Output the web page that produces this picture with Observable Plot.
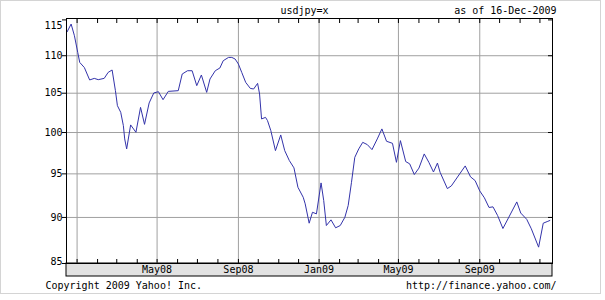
<!DOCTYPE html>
<html><head><meta charset="utf-8">
<script src="https://cdn.jsdelivr.net/npm/d3@7"></script>
<script src="https://cdn.jsdelivr.net/npm/@observablehq/plot@0.6"></script>
<style>
body{margin:0;background:#fff;}
#wrap{position:relative;width:605px;height:300px;}
#border{position:absolute;left:0;top:0;width:599px;height:292px;border:1px solid #d4d4d4;pointer-events:none;}
</style></head><body>
<div id="wrap"><div id="border"></div></div>
<script>
const titleText = "usdjpy=x";
const asOfText = "as of 16-Dec-2009";
const copyrightText = "Copyright 2009 Yahoo! Inc.";
const urlText = "http://finance.yahoo.com/";

const dates = ["2007-12-17","2007-12-23","2007-12-28","2008-01-02","2008-01-05","2008-01-12","2008-01-20","2008-01-27","2008-02-02","2008-02-11",
"2008-02-17","2008-02-23","2008-02-28","2008-03-02","2008-03-07","2008-03-11","2008-03-13","2008-03-16","2008-03-22","2008-03-30",
"2008-04-06","2008-04-12","2008-04-19","2008-04-26","2008-05-03","2008-05-10","2008-05-18","2008-06-02","2008-06-08","2008-06-16",
"2008-06-23","2008-06-30","2008-07-07","2008-07-15","2008-07-20","2008-07-28","2008-08-04","2008-08-09","2008-08-17","2008-08-22",
"2008-08-27","2008-09-01","2008-09-06","2008-09-12","2008-09-19","2008-09-24","2008-09-30","2008-10-03","2008-10-06","2008-10-12",
"2008-10-15","2008-10-20","2008-10-27","2008-11-04","2008-11-10","2008-11-17","2008-11-24","2008-11-30","2008-12-08","2008-12-11",
"2008-12-17","2008-12-22","2008-12-28","2009-01-04","2009-01-08","2009-01-12","2009-01-19","2009-01-26","2009-02-02","2009-02-09",
"2009-02-14","2009-02-19","2009-02-24","2009-03-02","2009-03-08","2009-03-15","2009-03-22","2009-03-30","2009-04-06","2009-04-13",
"2009-04-22","2009-04-28","2009-05-04","2009-05-12","2009-05-18","2009-05-25","2009-06-01","2009-06-09","2009-06-16","2009-06-23",
"2009-06-29","2009-07-03","2009-07-14","2009-07-20","2009-08-10","2009-08-18","2009-08-25","2009-09-01","2009-09-08","2009-09-15",
"2009-09-21","2009-09-28","2009-10-06","2009-10-27","2009-11-02","2009-11-11","2009-11-18","2009-11-29","2009-12-06","2009-12-13","2009-12-16"];

const values = [113.32,114.41,112.76,110.45,109.09,108.40,106.74,106.95,106.78,106.95,
107.75,108.07,105.33,103.39,102.54,100.86,99.21,97.99,100.95,100.03,
103.17,101.02,103.74,105.03,105.20,104.16,105.24,105.33,107.53,107.97,
107.97,105.99,107.40,105.11,106.87,107.97,108.34,109.32,109.77,109.77,
109.55,108.87,107.75,106.42,105.63,105.55,106.29,104.90,101.70,101.90,
101.49,100.24,97.78,99.70,97.78,96.58,95.71,93.43,92.28,91.53,
89.36,90.58,90.40,93.94,91.91,89.10,89.73,88.85,89.10,90.02,
91.34,94.01,96.97,97.99,98.79,98.51,97.90,99.21,100.45,98.92,
98.67,96.37,99.00,96.46,96.19,94.92,95.68,97.38,96.37,95.22,
96.28,95.19,93.28,93.59,95.94,94.65,94.21,93.01,92.22,91.12,
91.19,90.21,88.77,91.75,90.49,89.79,88.74,86.74,89.36,89.57,89.66];

const xDomainText = ["2007-12-16","2009-12-20"];
const yDomain = [85, 115.2];
const gridDatesText = ["2008-01-01","2008-05-01","2008-09-01","2009-01-01","2009-05-01","2009-09-01"];
const labelDatesText = ["2008-05-01","2008-09-01","2009-01-01","2009-05-01","2009-09-01"];
const labelTexts = ["May08","Sep08","Jan09","May09","Sep09"];
const yGrid = [90,95,100,105,110];
const yTicks = [85,90,95,100,105,110,115];
const yMidLabels = [90,95,100,105,110];
const yTopLabel = [115];
const yBottomLabel = [85];

const data = dates.map((d, i) => ({date: new Date(d), value: values[i]}));
const xDomain = xDomainText.map(d => new Date(d));
const gridDates = gridDatesText.map(d => new Date(d));
const labelDates = labelDatesText.map(d => new Date(d));
const labelMap = new Map(labelDates.map((d, i) => [+d, labelTexts[i]]));
const months = d3.utcMonth.range(new Date("2008-01-01"), new Date("2009-12-02"));

const font = "DejaVu Sans Mono";
const blank = () => "";
const yText = {y: d => d, text: d => String(d), frameAnchor: "left", textAnchor: "end", lineAnchor: "middle", dx: -4, fontFamily: font, fontSize: 10, fill: "black"};

const chart = Plot.plot({
  width: 605, height: 300,
  marginLeft: 66, marginRight: 53, marginTop: 18, marginBottom: 37,
  style: {fontFamily: font, fontSize: "10px", background: "transparent", color: "black"},
  x: {type: "utc", domain: xDomain, label: null},
  y: {type: "log", domain: yDomain, label: null},
  marks: [
    Plot.rect([0], {x1: () => xDomain[0], x2: () => xDomain[1], y1: () => yDomain[0], y2: () => yDomain[0],
      insetBottom: -13, fill: "#e2e2e2", stroke: "black"}),
    Plot.gridX(gridDates, {stroke: "#a0a0a0", strokeOpacity: 1}),
    Plot.gridY(yGrid, {stroke: "#a0a0a0", strokeOpacity: 1}),
    Plot.line(data, {x: "date", y: "value", stroke: "#3333aa", strokeWidth: 1}),
    Plot.frame({stroke: "black"}),
    Plot.axisX(months, {anchor: "bottom", tickSize: -4, tickFormat: blank, label: null}),
    Plot.axisX(months, {anchor: "top", tickSize: -4, tickFormat: blank, label: null}),
    Plot.axisX(labelDates, {anchor: "bottom", tickSize: 0, tickPadding: 2, tickFormat: d => labelMap.get(+d), fontFamily: font, fontSize: 10, label: null}),
    Plot.axisY(yTicks, {anchor: "left", tickSize: 4, tickFormat: blank, label: null}),
    Plot.axisY(yTicks, {anchor: "right", tickSize: -5, tickFormat: blank, label: null}),
    Plot.text(yMidLabels, yText),
    Plot.text(yTopLabel, {...yText, dy: 6}),
    Plot.text(yBottomLabel, {...yText, dy: -2}),
    Plot.text([titleText], {text: d => d, frameAnchor: "top", textAnchor: "middle", lineAnchor: "middle", dx: -5, dy: -8, fontFamily: font, fontSize: 10}),
    Plot.text([asOfText], {text: d => d, frameAnchor: "top-right", textAnchor: "end", lineAnchor: "middle", dx: 4, dy: -8, fontFamily: font, fontSize: 10}),
    Plot.text([copyrightText], {text: d => d, frameAnchor: "bottom-left", textAnchor: "start", lineAnchor: "middle", dx: -21, dy: 22, fontFamily: font, fontSize: 10}),
    Plot.text([urlText], {text: d => d, frameAnchor: "bottom-right", textAnchor: "end", lineAnchor: "middle", dx: 4, dy: 22, fontFamily: font, fontSize: 10})
  ]
});
document.getElementById("wrap").prepend(chart);
</script>
</body></html>
